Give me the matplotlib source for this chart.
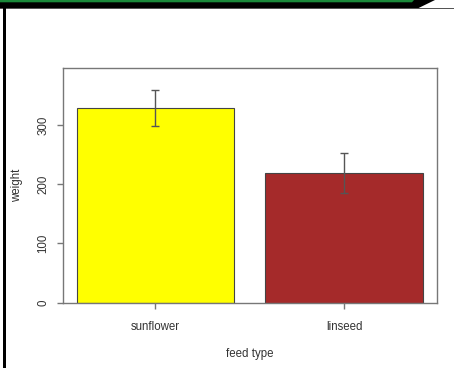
import matplotlib
matplotlib.use("Agg")
import matplotlib.pyplot as plt
from matplotlib.patches import Polygon, Rectangle

# chick weights by feed type: group means and 95% CI half-widths
feed_types = ["sunflower", "linseed"]
mean_weight = [328.92, 218.75]
ci_halfwidth = [31.03, 33.19]
bar_colors = ["yellow", "brown"]
y_ticks = [0, 100, 200, 300]

W, H = 454, 368
plt.rcParams["font.family"] = ["Liberation Sans", "DejaVu Sans"]
fig = plt.figure(figsize=(W / 100, H / 100), dpi=100)


def px(x, y):
    return (x / W, 1 - y / H)


# decorative frame strips
fig.patches.append(Polygon([px(0, 0), px(435, 0), px(418, 8.3), px(0, 8.3)],
                           closed=True, transform=fig.transFigure,
                           facecolor="black", edgecolor="none"))
fig.patches.append(Polygon([px(0, 0), px(414, 0), px(412, 2.3), px(0, 2.3)],
                           closed=True, transform=fig.transFigure,
                           facecolor="#1a8a3a", edgecolor="none"))
fig.patches.append(Rectangle(px(0, 9.3), W / W, 1.2 / H, transform=fig.transFigure,
                             facecolor="#555555", edgecolor="none"))
fig.patches.append(Rectangle(px(3, H), 3 / W, (H - 8.3) / H, transform=fig.transFigure,
                             facecolor="black", edgecolor="none"))

left, right, top, bottom = 63, 436.5, 67.7, 302.5
ax = fig.add_axes([left / W, 1 - bottom / H, (right - left) / W, (bottom - top) / H])

# R-style barplot positions: width 1, space 0.2
x_pos = [0.7, 1.9]
ax.bar(x_pos, mean_weight, width=1.0, color=bar_colors,
       edgecolor="#444444", linewidth=0.8, zorder=2)
ax.errorbar(x_pos, mean_weight, yerr=ci_halfwidth, fmt="none",
            ecolor="#555555", elinewidth=1.0, capsize=2.6, capthick=1.0, zorder=3)

ax.set_xlim(0.2 - 0.088, 2.4 + 0.088)
ax.set_ylim(0, 397)

line_col = "#777777"
text_col = "#333333"
for s in ax.spines.values():
    s.set_color(line_col)
    s.set_linewidth(1.0)

ax.set_yticks(y_ticks)
ax.set_yticklabels([str(v) for v in y_ticks], rotation=90, va="center")
ax.set_xticks(x_pos)
ax.set_xticklabels(feed_types)
ax.tick_params(axis="both", colors=line_col, labelcolor=text_col,
               labelsize=8.3, length=4.5, width=1.0)
ax.tick_params(axis="y", pad=5.5)
ax.tick_params(axis="x", pad=8.5)

ax.set_xlabel("feed type", fontsize=8.3, color=text_col, labelpad=11)
ax.set_ylabel("weight", fontsize=8.3, color=text_col, labelpad=10.4)

fig.savefig("out.png", dpi=100)
